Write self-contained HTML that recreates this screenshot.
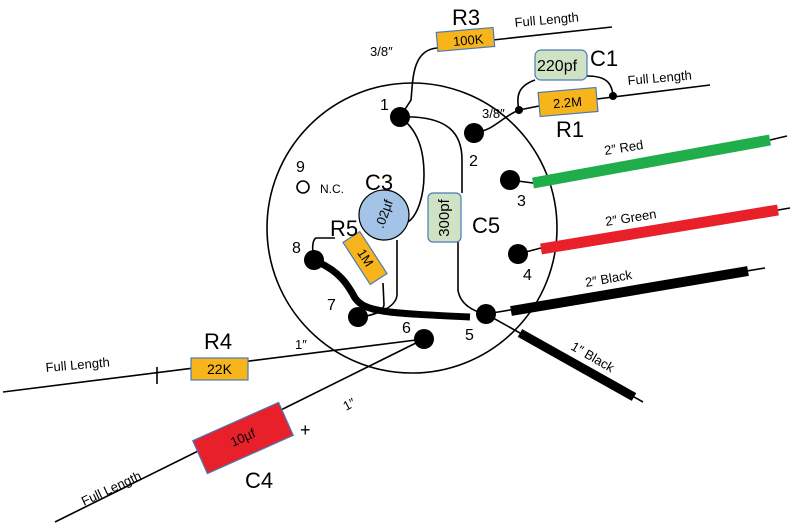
<!DOCTYPE html>
<html><head><style>body{margin:0;background:#fff}svg{display:block}text{font-family:"Liberation Sans",sans-serif;fill:#000}</style></head>
<body>
<svg width="800" height="528" viewBox="0 0 800 528" xmlns="http://www.w3.org/2000/svg">
<g fill="none" stroke="#000" stroke-width="1.6">
<circle cx="412" cy="228" r="145"/>
<line x1="493" y1="40" x2="612" y2="27"/>
<path d="M437,48 C412,50 413,80 411,100 L400,117"/>
<path d="M474,133 C495,130 500,118 519,110 L539,106"/>
<path d="M519,110 C516,96 518,86 535,80"/>
<path d="M587,76 C605,76 612,82 613,96"/>
<line x1="597" y1="99" x2="710" y2="85"/>
<path d="M400,117 C450,115 462,135 462,160 L462,193"/>
<path d="M458,242 L458,290 C460,305 475,312 486,314"/>
<path d="M400,117 C418,130 424,150 424,175 C424,195 418,215 408,222"/>
<path d="M397,240 L397,295 C396,308 375,315 360,317"/>
<path d="M335,238 L316,238 C312,240 312,250 314,258"/>
<path d="M383,283 L384,305 C383,312 370,316 360,317"/>
<line x1="510" y1="180" x2="533" y2="183"/>
<line x1="770" y1="140" x2="787" y2="136"/>
<line x1="518" y1="254" x2="541" y2="248"/>
<line x1="778" y1="210" x2="790" y2="208"/>
<line x1="486" y1="314" x2="765" y2="268"/>
<line x1="486" y1="314" x2="643" y2="402"/>
<line x1="3" y1="392" x2="424" y2="339"/>
<line x1="157" y1="367" x2="157" y2="384"/>
<line x1="55" y1="522" x2="424" y2="339"/>
<circle cx="303" cy="187" r="6"/>
</g>
<path d="M318,262 C340,272 348,285 355,298 C365,312 385,313 470,317" fill="none" stroke="#000" stroke-width="7"/>
<line x1="511" y1="311" x2="748" y2="271" stroke="#000" stroke-width="10"/>
<line x1="520" y1="333" x2="634" y2="397" stroke="#000" stroke-width="9"/>
<line x1="533" y1="183" x2="770" y2="140" stroke="#1fae4b" stroke-width="11"/>
<line x1="541" y1="249" x2="778" y2="210" stroke="#e8202a" stroke-width="11"/>
<g fill="#000">
<circle cx="400" cy="117" r="10"/><circle cx="474" cy="133" r="10"/><circle cx="510" cy="180" r="10"/>
<circle cx="518" cy="254" r="10"/><circle cx="486" cy="314" r="10"/><circle cx="424" cy="339" r="10"/>
<circle cx="358" cy="317" r="10"/><circle cx="314" cy="260" r="10"/>
<circle cx="519" cy="110" r="4"/><circle cx="613" cy="96" r="4"/>
</g>
<g stroke="#4a7ab8" stroke-width="1.2">
<rect x="437" y="30" width="57" height="19" fill="#f7b51b" transform="rotate(-5 465 40)"/>
<rect x="535" y="50" width="52" height="30" rx="6" fill="#cfe3c4"/>
<rect x="539" y="90" width="58" height="24" fill="#f7b51b" transform="rotate(-5 568 102)"/>
<rect x="428" y="193" width="33" height="49" rx="5" fill="#cfe3c4"/>
<circle cx="384" cy="215" r="25" fill="#a3c4e6" stroke="#000"/>
<rect x="340" y="248" width="50" height="20" fill="#f7b51b" transform="rotate(57 365 258)"/>
<rect x="191" y="358" width="57" height="22" fill="#f7b51b"/>
<rect x="196" y="420" width="94" height="36" fill="#e8202a" transform="rotate(-24 243 438)"/>
</g>
<g font-size="13">
<text x="453" y="45" transform="rotate(-5 465 40)">100K</text>
<text x="553" y="107" transform="rotate(-5 568 102)">2.2M</text>
<text x="537" y="71" font-size="16">220pf</text>
<text x="444" y="223" font-size="15" transform="rotate(-90 444 218)" text-anchor="middle">300pf</text>
<text x="385" y="219" font-size="13" transform="rotate(-70 384 215)" text-anchor="middle">.02µf</text>
<text x="365" y="262" transform="rotate(57 365 258)" text-anchor="middle">1M</text>
<text x="207" y="374" font-size="14">22K</text>
<text x="243" y="442" transform="rotate(-24 243 438)" text-anchor="middle">10µf</text>
<text x="515" y="27" transform="rotate(-5 515 27)">Full Length</text>
<text x="628" y="85" transform="rotate(-5 628 85)">Full Length</text>
<text x="46" y="372" transform="rotate(-5 46 372)">Full Length</text>
<text x="84" y="506" transform="rotate(-25 84 506)">Full Length</text>
<text x="370" y="56">3/8″</text>
<text x="482" y="118">3/8″</text>
<text x="605" y="155" transform="rotate(-9 605 155)">2″ Red</text>
<text x="606" y="226" transform="rotate(-9 606 226)">2″ Green</text>
<text x="586" y="287" transform="rotate(-10 586 287)">2″ Black</text>
<text x="570" y="349" transform="rotate(30 570 349)">1″ Black</text>
<text x="295" y="349">1″</text>
<text x="346" y="411" transform="rotate(-28 346 411)">1″</text>
<text x="320" y="193" font-size="12">N.C.</text>
</g>
<g font-size="16">
<text x="380" y="110">1</text><text x="469" y="166">2</text><text x="517" y="206">3</text>
<text x="523" y="280">4</text><text x="465" y="340">5</text><text x="402" y="333">6</text>
<text x="327" y="310">7</text><text x="292" y="253">8</text><text x="296" y="172">9</text>
<text x="300" y="436" font-size="18">+</text>
</g>
<g font-size="22">
<text x="452" y="25">R3</text><text x="590" y="66">C1</text><text x="556" y="137">R1</text>
<text x="365" y="190">C3</text><text x="330" y="236">R5</text><text x="472" y="233">C5</text>
<text x="204" y="349">R4</text><text x="245" y="488">C4</text>
</g>
</svg>
</body></html>
